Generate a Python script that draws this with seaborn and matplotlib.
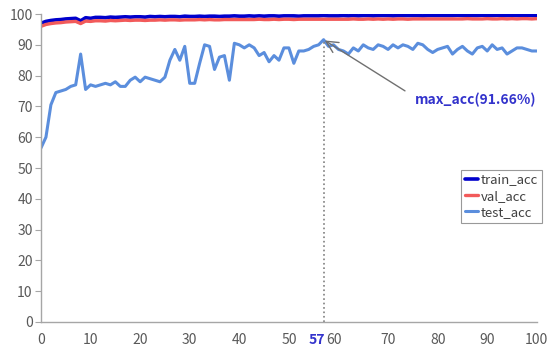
import numpy as np
import pandas as pd
import matplotlib
matplotlib.use("Agg")
import matplotlib.pyplot as plt
import matplotlib.transforms as mtransforms
import seaborn as sns

epochs = list(range(101))

train_acc = [97.0, 97.6, 97.9, 98.1, 98.2, 98.4, 98.5, 98.6, 97.8, 98.8,
             98.6, 98.9, 98.9, 98.8, 99.0, 98.9, 99.0, 99.1, 99.0, 99.1,
             99.1, 99.0, 99.2, 99.1, 99.2, 99.1, 99.2, 99.2, 99.1, 99.3,
             99.2, 99.2, 99.3, 99.2, 99.3, 99.3, 99.2, 99.3, 99.3, 99.4,
             99.3, 99.3, 99.4, 99.3, 99.4, 99.3, 99.4, 99.4, 99.3, 99.4,
             99.4, 99.4, 99.3, 99.4, 99.4, 99.4, 99.4, 99.5, 99.4, 99.4,
             99.4, 99.5, 99.4, 99.5, 99.4, 99.5, 99.5, 99.4, 99.5, 99.5,
             99.5, 99.4, 99.5, 99.5, 99.5, 99.5, 99.5, 99.4, 99.5, 99.5,
             99.5, 99.5, 99.5, 99.5, 99.6, 99.5, 99.5, 99.5, 99.5, 99.6,
             99.5, 99.5, 99.6, 99.5, 99.5, 99.6, 99.5, 99.5, 99.6, 99.5, 99.5]

val_acc = [96.0, 96.6, 96.9, 97.1, 97.2, 97.4, 97.5, 97.6, 96.9, 97.7,
           97.6, 97.8, 97.8, 97.7, 97.9, 97.8, 97.9, 98.0, 97.9, 98.0,
           98.0, 97.9, 98.0, 98.0, 98.1, 98.0, 98.1, 98.1, 98.0, 98.1,
           98.1, 98.1, 98.2, 98.1, 98.2, 98.1, 98.1, 98.2, 98.2, 98.2,
           98.2, 98.2, 98.2, 98.2, 98.3, 98.2, 98.2, 98.3, 98.2, 98.3,
           98.3, 98.2, 98.3, 98.3, 98.3, 98.3, 98.3, 98.3, 98.3, 98.3,
           98.3, 98.3, 98.3, 98.4, 98.3, 98.3, 98.4, 98.3, 98.4, 98.3,
           98.4, 98.3, 98.4, 98.4, 98.3, 98.4, 98.4, 98.4, 98.4, 98.4,
           98.4, 98.4, 98.4, 98.4, 98.4, 98.4, 98.5, 98.4, 98.4, 98.4,
           98.5, 98.4, 98.4, 98.5, 98.4, 98.5, 98.4, 98.5, 98.5, 98.4, 98.5]

test_acc = [56.5, 60.0, 70.5, 74.5, 75.0, 75.5, 76.5, 77.0, 87.0, 75.5,
            77.0, 76.5, 77.0, 77.5, 77.0, 78.0, 76.5, 76.5, 78.5, 79.5,
            78.0, 79.5, 79.0, 78.5, 78.0, 79.5, 85.0, 88.5, 85.0, 89.5,
            77.5, 77.5, 84.0, 90.0, 89.5, 82.0, 86.0, 86.5, 78.5, 90.5,
            90.0, 89.0, 90.0, 89.0, 86.5, 87.5, 84.5, 86.5, 85.0, 89.0,
            89.0, 84.0, 88.0, 88.0, 88.5, 89.5, 90.0, 91.66, 89.5, 90.0,
            88.5, 88.0, 87.0, 89.0, 88.0, 90.0, 89.0, 88.5, 90.0, 89.5,
            88.5, 90.0, 89.0, 90.0, 89.5, 88.5, 90.5, 90.0, 88.5, 87.5,
            88.5, 89.0, 89.5, 87.0, 88.5, 89.5, 88.0, 87.0, 89.0, 89.5,
            88.0, 90.0, 88.5, 89.0, 87.0, 88.0, 89.0, 89.0, 88.5, 88.0, 88.0]

x_ticks = [0, 10, 20, 30, 40, 50, 60, 70, 80, 90, 100]
y_ticks = [0, 10, 20, 30, 40, 50, 60, 70, 80, 90, 100]
max_epoch = 57
max_value = 91.66

df = pd.DataFrame({"epoch": epochs, "train_acc": train_acc,
                   "val_acc": val_acc, "test_acc": test_acc})

sns.set_style("white")
plt.rcParams['font.family'] = ['Noto Sans CJK KR', 'DejaVu Sans']

fig = plt.figure(figsize=(5.5, 3.54), dpi=100)
ax = fig.add_axes([0.0745, 0.0904, 0.9015, 0.870])

colors = {"train_acc": "#0000CC", "val_acc": "#F25A5A", "test_acc": "#5B8EDD"}
widths = {"train_acc": 2.6, "val_acc": 2.4, "test_acc": 2.2}
for name in ["train_acc", "val_acc", "test_acc"]:
    sns.lineplot(data=df, x="epoch", y=name, ax=ax, color=colors[name],
                 linewidth=widths[name], label=name)

ax.set_xlim(0, 100)
ax.set_ylim(0, 100)
ax.set_xticks(x_ticks + [max_epoch])
labels = [str(t) for t in x_ticks] + [str(max_epoch)]
ax.set_xticklabels(labels)
ax.set_yticks(y_ticks)
ax.set_xlabel("")
ax.set_ylabel("")

for s in ["top", "right"]:
    ax.spines[s].set_visible(False)
for s in ["left", "bottom"]:
    ax.spines[s].set_color("#A6A6A6")
    ax.spines[s].set_linewidth(1.0)
ax.tick_params(axis="y", direction="out", length=4, color="#A6A6A6",
               labelsize=10, labelcolor="#595959", pad=2, left=True)
ax.tick_params(axis="x", length=0, labelsize=10, labelcolor="#595959", pad=8)
for lbl in ax.get_xticklabels():
    if lbl.get_text() == str(max_epoch):
        lbl.set_color("#3333CC")
        lbl.set_fontweight("bold")
        lbl.set_transform(lbl.get_transform() +
                          mtransforms.ScaledTranslation(-5 / 72, 0, fig.dpi_scale_trans))
    elif lbl.get_text() == "60":
        lbl.set_transform(lbl.get_transform() +
                          mtransforms.ScaledTranslation(-3 / 72, 0, fig.dpi_scale_trans))

ax.plot([max_epoch, max_epoch], [0, max_value], linestyle=":", color="#7F7F7F",
        linewidth=1.2)
ax.annotate("max_acc(91.66%)", xy=(max_epoch, max_value), xytext=(75.5, 72),
            color="#3333CC", fontsize=10, fontweight="bold", va="center",
            arrowprops=dict(arrowstyle="->,head_length=0.7,head_width=0.35",
                            color="#707070", lw=1.0, relpos=(0, 0.7),
                            shrinkA=6, shrinkB=1, mutation_scale=12),
            zorder=5)

leg = ax.legend(loc="upper right", bbox_to_anchor=(1.01, 0.495), frameon=True,
                fontsize=9.5, handlelength=1.0, handletextpad=0.2,
                borderpad=0.3, labelspacing=0.25, fancybox=False,
                borderaxespad=0)
leg.get_frame().set_edgecolor("#808080")
leg.get_frame().set_linewidth(0.8)
for t in leg.get_texts():
    t.set_color("#404040")

fig.savefig("out.png", dpi=100)
